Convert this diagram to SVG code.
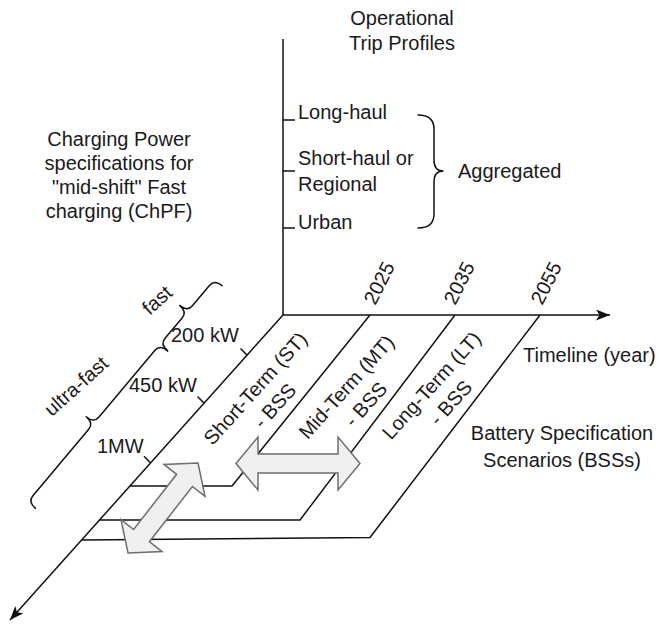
<svg xmlns="http://www.w3.org/2000/svg" width="659" height="628" viewBox="0 0 659 628">
<defs>
<marker id="arr" viewBox="0 0 14 11" refX="14" refY="5.5" markerWidth="14" markerHeight="11" markerUnits="userSpaceOnUse" orient="auto">
<path d="M0,0 L14,5.5 L0,11 L3.5,5.5 z" fill="#111"/>
</marker>
</defs>
<style>
.ln{fill:none;stroke:#111;stroke-width:1.5;stroke-linejoin:round}
.br{fill:none;stroke:#111;stroke-width:1.5;stroke-linejoin:round;stroke-linecap:round}
.da{fill:#f0f0f0;stroke:#6e6e6e;stroke-width:1.5;stroke-linejoin:miter}
text{font-family:"Liberation Sans",Arial,Helvetica,sans-serif;font-size:20px;fill:#1a1a1a}
.m{text-anchor:middle}
</style>
<rect width="659" height="628" fill="#ffffff"/>

<g id="connectors">
<line class="ln" x1="283" y1="39" x2="283" y2="315"/>
<line class="ln" x1="283" y1="315" x2="610" y2="315" marker-end="url(#arr)"/>
<line class="ln" x1="283" y1="315" x2="10" y2="620" marker-end="url(#arr)"/>
<line class="ln" x1="283" y1="120" x2="295" y2="120"/>
<line class="ln" x1="283" y1="171" x2="295" y2="171"/>
<line class="ln" x1="283" y1="228" x2="295" y2="228"/>
<line class="ln" x1="247" y1="355" x2="240.5" y2="348.5"/>
<line class="ln" x1="204" y1="403" x2="197.5" y2="396.5"/>
<line class="ln" x1="150.5" y1="462.7" x2="144" y2="456.2"/>
<polyline id="st-line" class="ln" points="130,486 232,486 370,315"/>
<polyline id="mt-line" class="ln" points="100,520 300,520 455,315"/>
<polyline id="lt-line" class="ln" points="82,540 370,537.5 540,315"/>
</g>

<g id="trip-brace">
<path class="br" d="M418,115 Q434,115 434,129 L434,160 Q434,171 443,171 Q434,171 434,182 L434,214 Q434,228 418,228"/>
</g>

<g id="power-braces" transform="translate(163,347) rotate(-50)">
<path class="br" d="M0,6 Q0,-4 8,-4 L34.5,-4 Q42.5,-4 42.5,-14 Q42.5,-4 50.5,-4 L77,-4 Q85,-4 85,6"/>
<path class="br" d="M-205.6,6 Q-205.6,-4 -197.6,-4 L-110.8,-4 Q-102.8,-4 -102.8,-14 Q-102.8,-4 -94.8,-4 L-8,-4 Q0,-4 0,6"/>
</g>

<g id="arrow-horizontal">
<polygon class="da" points="236,463.5 258,437 258,454 338,454 338,437 360,463.5 338,490 338,473 258,473 258,490"/>
</g>
<g id="arrow-diagonal">
<polygon class="da" points="198,463 205,496.4 192.4,486.5 149.4,541.7 162,551.6 128,553 121,519.6 133.6,529.5 176.6,474.3 164,464.4"/>
</g>

<g id="title-trip">
<text class="m" x="402" y="25">Operational</text>
<text class="m" x="402" y="50">Trip Profiles</text>
</g>
<g id="trip-labels">
<text x="298" y="119">Long-haul</text>
<text x="298" y="165">Short-haul or</text>
<text x="298" y="191">Regional</text>
<text x="298" y="229">Urban</text>
<text x="458" y="178">Aggregated</text>
</g>
<g id="title-power">
<text class="m" x="119" y="146">Charging Power</text>
<text class="m" x="119" y="170">specifications for</text>
<text class="m" x="119" y="194">"mid-shift" Fast</text>
<text class="m" x="119" y="218">charging (ChPF)</text>
</g>
<g id="power-labels">
<text x="171" y="342">200 kW</text>
<text x="129" y="392">450 kW</text>
<text x="97" y="453">1MW</text>
<text class="m" transform="translate(157,300) rotate(-42)" y="7">fast</text>
<text class="m" transform="translate(76,386) rotate(-42)" y="7">ultra-fast</text>
</g>
<g id="years">
<text class="m" transform="translate(379,283) rotate(-63)" y="7">2025</text>
<text class="m" transform="translate(459,283) rotate(-63)" y="7">2035</text>
<text class="m" transform="translate(546,283) rotate(-63)" y="7">2055</text>
</g>
<g id="timeline-label">
<text x="523" y="362">Timeline (year)</text>
</g>
<g id="bss-label">
<text class="m" x="562" y="440">Battery Specification</text>
<text class="m" x="562" y="467">Scenarios (BSSs)</text>
</g>
<g id="st-bss">
<text class="m" transform="translate(265,397) rotate(-48)"><tspan x="0" y="-6">Short-Term (ST)</tspan><tspan x="0" y="20">- BSS</tspan></text>
</g>
<g id="mt-bss">
<text class="m" transform="translate(356,395.5) rotate(-48)"><tspan x="0" y="-6">Mid-Term (MT)</tspan><tspan x="0" y="20">- BSS</tspan></text>
</g>
<g id="lt-bss">
<text class="m" transform="translate(441,394) rotate(-48)"><tspan x="0" y="-6">Long-Term (LT)</tspan><tspan x="0" y="20">- BSS</tspan></text>
</g>
</svg>
